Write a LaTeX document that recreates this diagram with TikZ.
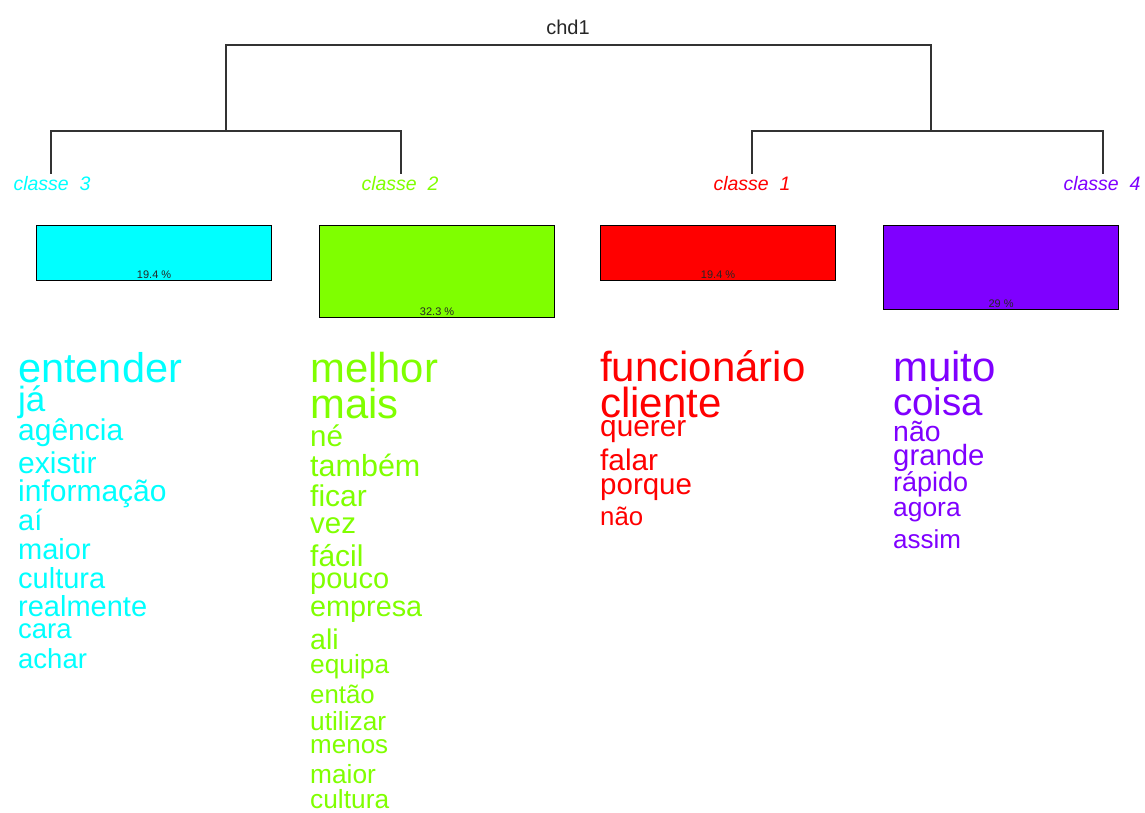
\documentclass[tikz,border=0pt]{standalone}
\usepackage{fontspec}
\setmainfont{Liberation Sans}
\definecolor{cA}{HTML}{00FFFF}
\definecolor{cB}{HTML}{7FFF00}
\definecolor{cC}{HTML}{FF0000}
\definecolor{cD}{HTML}{7F00FF}
\definecolor{tree}{HTML}{333333}
\tikzset{
  word/.style 2 args={anchor=base west, inner sep=0pt, text=#1, font=\fontsize{#2}{#2}\selectfont},
  branch/.style={draw=tree, line width=1.3pt},
  leaflab/.style={anchor=base, inner sep=0pt, text=#1, font=\fontsize{19.5}{19.5}\selectfont\itshape},
  bar/.style={draw=black, line width=1.2pt, fill=#1, minimum width=235pt, anchor=north west, inner sep=0pt},
  pct/.style={anchor=base, inner sep=0pt, font=\fontsize{11}{11}\selectfont, text=black!85},
}
\begin{document}
\begin{tikzpicture}[x=1pt,y=-1pt]
\useasboundingbox (0,0) rectangle (1145,813);
% title
\node[anchor=base, inner sep=0pt, font=\fontsize{20}{20}\selectfont, text=black!85] (title) at (568,35) {chd1};
% dendrogram coordinates
\coordinate (rl) at (226,45);
\coordinate (rr) at (931,45);
\coordinate (jl) at (226,131);
\coordinate (jr) at (931,131);
\coordinate (k3) at (51,131);
\coordinate (k2) at (401,131);
\coordinate (k1) at (752,131);
\coordinate (k4) at (1103,131);
\coordinate (e3) at (51,174);
\coordinate (e2) at (401,174);
\coordinate (e1) at (752,174);
\coordinate (e4) at (1103,174);
\draw[branch] (jl) -- (rl) -- (rr) -- (jr);
\draw[branch] (e3) -- (k3) -- (k2) -- (e2);
\draw[branch] (e1) -- (k1) -- (k4) -- (e4);
% leaf labels
\node[leaflab=cA] (c3) at (52,190) {classe\ \ 3};
\node[leaflab=cB] (c2) at (400,190) {classe\ \ 2};
\node[leaflab=cC] (c1) at (752,190) {classe\ \ 1};
\node[leaflab=cD] (c4) at (1102,190) {classe\ \ 4};
% bars
\node[bar=cA, minimum height=55pt] (b3) at (36,225) {};
\node[bar=cB, minimum height=92pt] (b2) at (319,225) {};
\node[bar=cC, minimum height=55pt] (b1) at (600,225) {};
\node[bar=cD, minimum height=84pt] (b4) at (883,225) {};
\node[pct] (p3) at ([yshift=2.5pt]b3.south) {19.4 \%};
\node[pct] (p2) at ([yshift=2.5pt]b2.south) {32.3 \%};
\node[pct] (p1) at ([yshift=2.5pt]b1.south) {19.4 \%};
\node[pct] (p4) at ([yshift=2.5pt]b4.south) {29 \%};
% classe 3 words
\node[word={cA}{41.5}] (a1) at (18,382.7) {entender};
\node[word={cA}{35}] (a2) at (18,411) {já};
\node[word={cA}{30}] (a3) at (18,440) {agência};
\node[word={cA}{30}] (a4) at (18,473) {existir};
\node[word={cA}{30}] (a5) at (18,501.7) {informação};
\node[word={cA}{29}] (a6) at (18,530.7) {aí};
\node[word={cA}{29}] (a7) at (18,559) {maior};
\node[word={cA}{29}] (a8) at (18,588) {cultura};
\node[word={cA}{29}] (a9) at (18,616.7) {realmente};
\node[word={cA}{27.5}] (a10) at (18,638) {cara};
\node[word={cA}{27.5}] (a11) at (18,668) {achar};
% classe 2 words
\node[word={cB}{41.8}] (g1) at (310,382.7) {melhor};
\node[word={cB}{41.8}] (g2) at (310,418) {mais};
\node[word={cB}{29.5}] (g3) at (310,446.7) {né};
\node[word={cB}{30.5}] (g4) at (310,476.7) {também};
\node[word={cB}{30}] (g5) at (310,506.7) {ficar};
\node[word={cB}{29.5}] (g6) at (310,533.3) {vez};
\node[word={cB}{30}] (g7) at (310,566.7) {fácil};
\node[word={cB}{29}] (g8) at (310,588.3) {pouco};
\node[word={cB}{28.8}] (g9) at (310,616.7) {empresa};
\node[word={cB}{28.5}] (g10) at (310,649.3) {ali};
\node[word={cB}{26.3}] (g11) at (310,673.3) {equipa};
\node[word={cB}{25.8}] (g12) at (310,703.3) {então};
\node[word={cB}{26.3}] (g13) at (310,730) {utilizar};
\node[word={cB}{26}] (g14) at (310,753.3) {menos};
\node[word={cB}{26.3}] (g15) at (310,783.3) {maior};
\node[word={cB}{26.3}] (g16) at (310,808) {cultura};
% classe 1 words
\node[word={cC}{42}] (r1) at (600,381.7) {funcionário};
\node[word={cC}{42}] (r2) at (600,417.7) {cliente};
\node[word={cC}{29.8}] (r3) at (600,436) {querer};
\node[word={cC}{29.8}] (r4) at (600,470) {falar};
\node[word={cC}{29.5}] (r5) at (600,494) {porque};
\node[word={cC}{25.8}] (r6) at (600,525) {não};
% classe 4 words
\node[word={cD}{42}] (v1) at (893,381.7) {muito};
\node[word={cD}{38.5}] (v2) at (893,415) {coisa};
\node[word={cD}{28.4}] (v3) at (893,441) {não};
\node[word={cD}{29.3}] (v4) at (893,465) {grande};
\node[word={cD}{27}] (v5) at (893,491.7) {rápido};
\node[word={cD}{26.4}] (v6) at (893,516.7) {agora};
\node[word={cD}{26}] (v7) at (893,548.3) {assim};
\end{tikzpicture}
\end{document}
